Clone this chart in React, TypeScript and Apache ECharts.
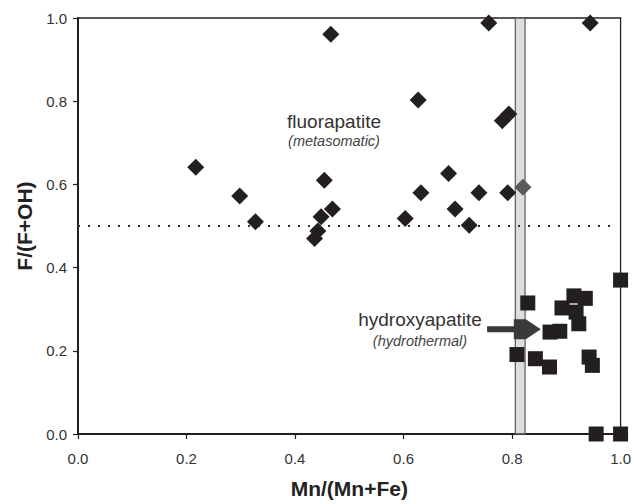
import React, { useEffect, useRef } from "react";
import * as echarts from "echarts";

// Fluorapatite analyses: [Mn/(Mn+Fe), F/(F+OH)]
const fluorapatite: number[][] = [
  [0.217, 0.641], [0.298, 0.572], [0.327, 0.51], [0.436, 0.47], [0.442, 0.488],
  [0.448, 0.522], [0.454, 0.61], [0.469, 0.541], [0.466, 0.961], [0.603, 0.518],
  [0.627, 0.803], [0.632, 0.58], [0.683, 0.626], [0.695, 0.541], [0.721, 0.502],
  [0.739, 0.58], [0.757, 0.988], [0.782, 0.753], [0.794, 0.769], [0.792, 0.58],
  [0.944, 0.988],
];
// Transitional fluorapatite grain (drawn grey)
const fluorapatiteGrey: number[][] = [[0.82, 0.593]];

// Hydroxyapatite analyses
const hydroxyapatite: number[][] = [
  [1.0, 0.37], [0.829, 0.315], [0.914, 0.332], [0.935, 0.326], [0.892, 0.303],
  [0.918, 0.293], [0.923, 0.265], [0.87, 0.245], [0.888, 0.247], [0.809, 0.191],
  [0.843, 0.181], [0.869, 0.161], [0.942, 0.185], [0.948, 0.165], [0.955, 0.0],
  [1.0, 0.0],
];

// F/(F+OH) = 0.5 divide
const divideLine: number[][] = [[0.0, 0.5], [0.983, 0.5]];
// Mn/(Mn+Fe) boundary band
const boundaryBand: number[] = [0.806, 0.824];
// Arrow pointing at the hydroxyapatite cluster: [xStart, xEnd, y]
const arrowData: number[][] = [[0.754, 0.853, 0.252]];

const axisTicks: number[] = [0, 0.2, 0.4, 0.6, 0.8, 1.0];

const FONT = "'Liberation Sans', Arial, Helvetica, sans-serif";
const INK = "#231f20";

export default function App() {
  const ref = useRef<HTMLDivElement>(null);

  useEffect(() => {
    if (!ref.current) return;
    const chart = echarts.init(ref.current, undefined, { renderer: "svg" });

    const axisCommon = {
      type: "value" as const,
      min: axisTicks[0],
      max: axisTicks[axisTicks.length - 1],
      interval: 0.2,
      nameLocation: "middle" as const,
      nameTextStyle: { fontFamily: FONT, fontWeight: "bold" as const, fontSize: 21, color: "#222" },
      axisLine: { show: true, onZero: false, lineStyle: { color: INK, width: 2 } },
      axisTick: { show: true, inside: false, length: 5, lineStyle: { color: INK, width: 1.2 } },
      axisLabel: {
        fontFamily: FONT,
        fontSize: 15,
        color: "#333",
        formatter: (v: number) => v.toFixed(1),
      },
      splitLine: { show: false },
    };

    chart.setOption({
      animation: false,
      backgroundColor: "#fff",
      grid: {
        left: 78,
        right: 12,
        top: 18,
        bottom: 68,
        show: true,
        borderColor: INK,
        borderWidth: 1.3,
        backgroundColor: "transparent",
      },
      xAxis: {
        ...axisCommon,
        name: "Mn/(Mn+Fe)",
        nameGap: 44,
        axisLabel: { ...axisCommon.axisLabel, margin: 17 },
      },
      yAxis: {
        ...axisCommon,
        name: "F/(F+OH)",
        nameGap: 42,
        axisLabel: { ...axisCommon.axisLabel, margin: 11 },
      },
      graphic: [
        {
          type: "text",
          x: 334,
          y: 121,
          style: {
            text: "fluorapatite",
            font: `19px ${FONT}`,
            fill: "#333",
            textAlign: "center",
            textVerticalAlign: "middle",
          },
        },
        {
          type: "text",
          x: 334,
          y: 141,
          style: {
            text: "(metasomatic)",
            font: `italic 14.5px ${FONT}`,
            fill: "#444",
            textAlign: "center",
            textVerticalAlign: "middle",
          },
        },
        {
          type: "text",
          x: 420,
          y: 319,
          style: {
            text: "hydroxyapatite",
            font: `19px ${FONT}`,
            fill: "#333",
            textAlign: "center",
            textVerticalAlign: "middle",
          },
        },
        {
          type: "text",
          x: 420,
          y: 341,
          style: {
            text: "(hydrothermal)",
            font: `italic 14.5px ${FONT}`,
            fill: "#444",
            textAlign: "center",
            textVerticalAlign: "middle",
          },
        },
      ],
      series: [
        {
          name: "divide",
          type: "line",
          data: divideLine,
          showSymbol: false,
          symbol: "none",
          silent: true,
          z: 1,
          lineStyle: { color: "#333", width: 2, type: [2, 8] },
        },
        {
          name: "fluorapatite",
          type: "scatter",
          data: fluorapatite,
          symbol: "diamond",
          symbolSize: 17,
          clip: false,
          z: 2,
          itemStyle: { color: INK, opacity: 1 },
        },
        {
          name: "fluorapatite (transitional)",
          type: "scatter",
          data: fluorapatiteGrey,
          symbol: "diamond",
          symbolSize: 17,
          clip: false,
          z: 5,
          itemStyle: { color: "#5a5a5a", opacity: 1 },
        },
        {
          name: "hydroxyapatite",
          type: "scatter",
          data: hydroxyapatite,
          symbol: "rect",
          symbolSize: 15,
          clip: false,
          z: 2,
          itemStyle: { color: INK, opacity: 1 },
        },
        {
          name: "boundary",
          type: "scatter",
          data: [],
          z: 4,
          markArea: {
            silent: true,
            itemStyle: {
              color: "rgba(190,190,190,0.52)",
              borderColor: "#5a5a5a",
              borderWidth: 1.2,
            },
            data: [[{ xAxis: boundaryBand[0], yAxis: 0 }, { xAxis: boundaryBand[1], yAxis: 1 }]],
          },
        },
        {
          name: "arrow",
          type: "custom",
          data: arrowData,
          z: 6,
          silent: true,
          renderItem: (_params: any, api: any) => {
            const p0 = api.coord([api.value(0), api.value(2)]);
            const p1 = api.coord([api.value(1), api.value(2)]);
            const y = p0[1];
            const shaft = 3;
            const head = 10;
            const taper = 15;
            const box = 12;
            const xs = p1[0] - taper;
            const xb = xs - box;
            return {
              type: "polygon",
              shape: {
                points: [
                  [p0[0], y - shaft],
                  [xb, y - shaft],
                  [xb, y - head],
                  [xs, y - head],
                  [p1[0], y],
                  [xs, y + head],
                  [xb, y + head],
                  [xb, y + shaft],
                  [p0[0], y + shaft],
                ],
              },
              style: { fill: "#3a3a3a", stroke: "none" },
            };
          },
        },
      ],
    });

    return () => chart.dispose();
  }, []);

  return (
    <div
      ref={ref}
      style={{ position: "fixed", left: 0, top: 0, width: 634, height: 504, background: "#fff" }}
    />
  );
}
